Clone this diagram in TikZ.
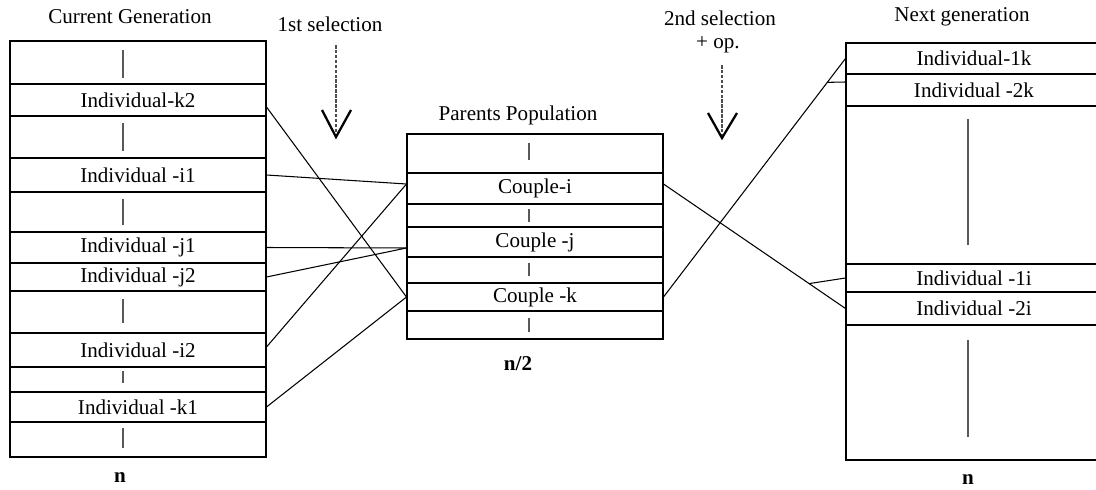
\documentclass[tikz,border=0pt]{standalone}
\usepackage{fontspec}
\setmainfont{Liberation Serif}
\tikzset{
  cell/.style={draw, minimum width=5.12cm, minimum height=#1, inner sep=0pt,
    font=\fontsize{12}{14}\selectfont},
  caption/.style={inner sep=0pt, font=\fontsize{12}{14}\selectfont},
  size/.style={inner sep=0pt, font=\fontsize{12}{14}\selectfont\bfseries},
  gap/.style={gray!70!black},
  selarrow/.style={line width=1.5pt, draw=black!70, dash pattern=on 2pt off 0.8pt}
}
\begin{document}
\begin{tikzpicture}[x=0.02cm, y=-0.02cm, line width=0.6pt]
  \useasboundingbox (0,0) rectangle (1096,490);

  % current generation
  \node[caption] (cg) at (130,17) {Current Generation};
  \draw (10,41) rectangle (266,457);
  \node[cell=0.64cm] (k2) at (138,100) {Individual-k2};
  \node[cell=0.68cm] (i1) at (138,175) {Individual -i1};
  \node[cell=0.62cm] (j1) at (138,247.5) {Individual -j1};
  \node[cell=0.56cm] (j2) at (138,277) {Individual -j2};
  \node[cell=0.68cm] (i2) at (138,350) {Individual -i2};
  \node[cell=0.60cm] (k1) at (138,407) {Individual -k1};
  \foreach \a/\b in {50/78, 123/151, 199/225, 299/323, 371/383, 428/448}
    \draw[gap] (123,\a) -- (123,\b);
  \node[size] (n1) at (120,478) {n};

  % parents population
  \node[caption] (pp) at (518,115) {Parents Population};
  \draw (407,134) rectangle (663,339);
  \node[cell=0.62cm] (ci) at (535,188.5) {Couple-i};
  \node[cell=0.60cm] (cj) at (535,242) {Couple -j};
  \node[cell=0.56cm] (ck) at (535,297) {Couple -k};
  \foreach \a/\b in {143/160, 209/222, 263/276, 318/332}
    \draw[gap] (529,\a) -- (529,\b);
  \node[size] (n2) at (518,364) {n/2};

  % next generation
  \node[caption] (ng) at (962,17) {Next generation};
  \draw (1096,43) -- (846,43) -- (846,460) -- (1096,460);
  \node[cell=0.62cm] (n1k) at (974,58.5) {Individual-1k};
  \node[cell=0.64cm] (n2k) at (974,90) {Individual -2k};
  \node[cell=0.56cm] (n1i) at (974,278) {Individual -1i};
  \node[cell=0.66cm] (n2i) at (974,308.5) {Individual -2i};
  \draw[gap] (968,119) -- (968,245);
  \draw[gap] (968,340) -- (968,437);
  \node[size] (n3) at (968,480) {n};

  % selections
  \node[caption] (s1) at (330,24) {1st selection};
  \path[selarrow] (336,45) edge (336,134);
  \draw[line width=1.3pt] (322,110) -- (336,137) -- (351,110);
  \node[caption] (s2) at (720,18) {2nd selection};
  \node[caption] (s2b) at (718,45) {+ op.};
  \path[selarrow] (722,65) edge (722,135);
  \draw[line width=1.3pt] (708,113) -- (722,138) -- (737,113);

  % first selection links
  \draw ([yshift=-0.14cm]k2.east) -- (ck.west);
  \draw (i1.east) -- ([yshift=0.09cm]ci.west);
  \draw (j1.east) -- ([yshift=-0.12cm]cj.west);
  \draw (j2.east) -- ([yshift=-0.12cm]cj.west);
  \draw ([yshift=0.06cm]i2.east) -- ([yshift=0.09cm]ci.west);
  \draw (k1.east) -- (ck.west);

  % second selection links
  \draw ([yshift=0.09cm]ci.east) -- coordinate[pos=0.8] (bi) (n2i.west);
  \draw (n1i.west) -- (bi);
  \draw (ck.east) -- coordinate[pos=0.9] (bk) (n1k.west);
  \draw ([yshift=0.16cm]n2k.west) -- (bk);

\end{tikzpicture}
\end{document}
